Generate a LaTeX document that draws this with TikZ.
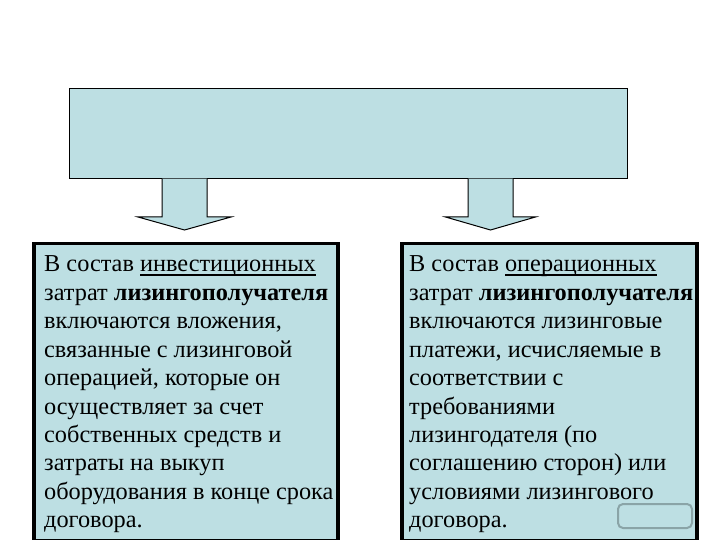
\documentclass[tikz,border=0pt]{standalone}
\usepackage{fontspec}
\setmainfont{Liberation Serif}
\usetikzlibrary{calc}
\definecolor{boxblue}{RGB}{189,223,227}
\definecolor{tabgray}{RGB}{138,164,167}
\newcommand\myul[1]{\setbox0\hbox{#1}\rlap{\rule[-3.6bp]{\wd0}{1.2bp}}#1}
\newcommand\boxtext[1]{\parbox[t]{340bp}{\fontsize{24.3bp}{28.4bp}\selectfont #1}}
\tikzset{
  topbox/.style={draw=black, line width=1.2bp, fill=boxblue, inner sep=0pt, anchor=north west},
  costbox/.style={draw=black, line width=3.5bp, fill=boxblue, inner sep=0pt, anchor=north west},
  costtext/.style={inner sep=0pt, anchor=base west},
  blockarrow/.style={draw=black, line width=1bp, fill=boxblue, line join=miter},
  tabbox/.style={draw=tabgray, line width=2bp, fill=boxblue, rounded corners=5bp, minimum width=74bp, minimum height=24bp, inner sep=0pt}
}
\begin{document}
\begin{tikzpicture}[x=1bp,y=-1bp]
\useasboundingbox[fill=white] (0,0) rectangle (720,540);

\node[topbox, minimum width=558bp, minimum height=90bp] (top) at (69,88) {};

\coordinate (la) at (184.5,178.6);
\coordinate (ra) at (490.5,178.6);

\filldraw[blockarrow] ($(la)+(-22.5,0)$) -- ++(0,38.4) -- ++(-24,0) -- ++(46.5,13) -- ++(46.5,-13) -- ++(-24,0) -- ++(0,-38.4);
\filldraw[blockarrow] ($(ra)+(-22.5,0)$) -- ++(0,38.4) -- ++(-22.5,0) -- ++(45,13) -- ++(45,-13) -- ++(-22.5,0) -- ++(0,-38.4);

\node[costbox, minimum width=304bp, minimum height=297bp] (inv) at (32,242) {};
\node[costbox, minimum width=295bp, minimum height=297bp] (oper) at (400,242) {};

\node[costtext] (invtext) at (44,272) {\boxtext{%
В состав \myul{инвестиционных}\\
затрат \textbf{лизингополучателя}\\
включаются вложения,\\
связанные с лизинговой\\
операцией, которые он\\
осуществляет за счет\\
собственных средств и\\
затраты на выкуп\\
оборудования в конце срока\\
договора.}};

\node[costtext] (opertext) at (409,272) {\boxtext{%
В состав \myul{операционных}\\
затрат \textbf{лизингополучателя}\\
включаются лизинговые\\
платежи, исчисляемые в\\
соответствии с\\
требованиями\\
лизингодателя (по\\
соглашению сторон) или\\
условиями лизингового\\
договора.}};

\node[tabbox] (tab) at (655,516) {};
\end{tikzpicture}
\end{document}
